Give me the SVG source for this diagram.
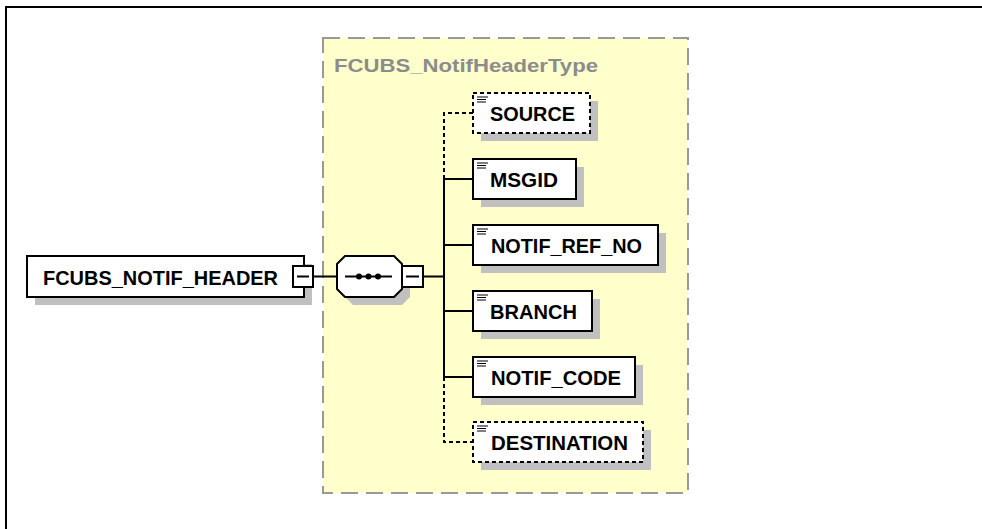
<svg xmlns="http://www.w3.org/2000/svg" width="982" height="529" viewBox="0 0 982 529">
<style>
.frame{fill:none;stroke:#000;stroke-width:2}
.type{fill:#ffffcc;stroke:#999;stroke-width:2;stroke-dasharray:17 8}
.title{font-family:"Liberation Sans",Arial,sans-serif;font-weight:bold;font-size:18px;fill:#8c8c8c}
.shadow{fill:#c0c0c0;stroke:none}
.box{fill:#fff;stroke:#000;stroke-width:2}
.opt{fill:#fff;stroke:#000;stroke-width:2;stroke-dasharray:4 3}
.lbl{font-family:"Liberation Sans",Arial,sans-serif;font-weight:bold;font-size:20px;fill:#000}
.ln{fill:none;stroke:#000;stroke-width:2}
.dl{fill:none;stroke:#000;stroke-width:2;stroke-dasharray:4 3}
.ic{stroke:#000;stroke-width:1.2}
</style>
<rect width="982" height="529" fill="#fff"/>
<path class="frame" d="M6,529 V7 H982"/>
<g id="type-box">
<rect class="type" x="323" y="38" width="365" height="455"/>
<text class="title" x="334" y="72" textLength="264" lengthAdjust="spacingAndGlyphs">FCUBS_NotifHeaderType</text>
</g>
<g id="connectors">
<path class="ln" d="M313,276.5 H337 M423,276.5 H444 M444,179 V377 M444,179 H473 M444,245 H473 M444,311 H473 M444,377 H473"/>
<path class="dl" d="M473,113 H444 V179 M444,377 V442 H473"/>
</g>
<g id="root">
<rect class="shadow" x="35" y="264" width="277" height="41"/>
<rect class="box" x="27" y="256" width="277" height="41"/>
<text class="lbl" x="43" y="285" textLength="235" lengthAdjust="spacingAndGlyphs">FCUBS_NOTIF_HEADER</text>
<rect class="box" x="293" y="266" width="20" height="21"/>
<path class="ln" d="M297,276.5 H309"/>
</g>
<g id="sequence">
<path class="shadow" d="M353,264 H402 L410,272 V297 L402,305 H353 L345,297 V272 Z"/>
<path class="box" d="M345,256 H394 L402,264 V289 L394,297 H345 L337,289 V264 Z"/>
<path class="ln" d="M345,276.5 H392"/>
<circle cx="359" cy="276.5" r="3"/>
<circle cx="368.5" cy="276.5" r="3"/>
<circle cx="378" cy="276.5" r="3"/>
<rect class="box" x="402" y="266" width="21" height="21"/>
<path class="ln" d="M406,276.5 H419"/>
</g>
<g id="source">
<rect class="shadow" x="481" y="101" width="117" height="40"/>
<rect class="opt" x="473" y="93" width="117" height="40"/>
<path class="ic" d="M477,97 H488 M477,99.5 H486 M477,102 H486"/>
<text class="lbl" x="490" y="120.5" textLength="85" lengthAdjust="spacingAndGlyphs">SOURCE</text>
</g>
<g id="msgid">
<rect class="shadow" x="481" y="167" width="103" height="40"/>
<rect class="box" x="473" y="159" width="103" height="40"/>
<path class="ic" d="M477,163 H488 M477,165.5 H486 M477,168 H486"/>
<text class="lbl" x="490" y="186.5" textLength="68" lengthAdjust="spacingAndGlyphs">MSGID</text>
</g>
<g id="notif-ref-no">
<rect class="shadow" x="481" y="233" width="185" height="40"/>
<rect class="box" x="473" y="225" width="185" height="40"/>
<path class="ic" d="M477,229 H488 M477,231.5 H486 M477,234 H486"/>
<text class="lbl" x="491" y="252.5" textLength="151" lengthAdjust="spacingAndGlyphs">NOTIF_REF_NO</text>
</g>
<g id="branch">
<rect class="shadow" x="481" y="299" width="119" height="40"/>
<rect class="box" x="473" y="291" width="119" height="40"/>
<path class="ic" d="M477,295 H488 M477,297.5 H486 M477,300 H486"/>
<text class="lbl" x="490" y="318.5" textLength="87" lengthAdjust="spacingAndGlyphs">BRANCH</text>
</g>
<g id="notif-code">
<rect class="shadow" x="481" y="365" width="162" height="40"/>
<rect class="box" x="473" y="357" width="162" height="40"/>
<path class="ic" d="M477,361 H488 M477,363.5 H486 M477,366 H486"/>
<text class="lbl" x="491" y="384.5" textLength="130" lengthAdjust="spacingAndGlyphs">NOTIF_CODE</text>
</g>
<g id="destination">
<rect class="shadow" x="481" y="430" width="170" height="40"/>
<rect class="opt" x="473" y="422" width="170" height="40"/>
<path class="ic" d="M477,426 H488 M477,428.5 H486 M477,431 H486"/>
<text class="lbl" x="491" y="449.5" textLength="137" lengthAdjust="spacingAndGlyphs">DESTINATION</text>
</g>
</svg>
